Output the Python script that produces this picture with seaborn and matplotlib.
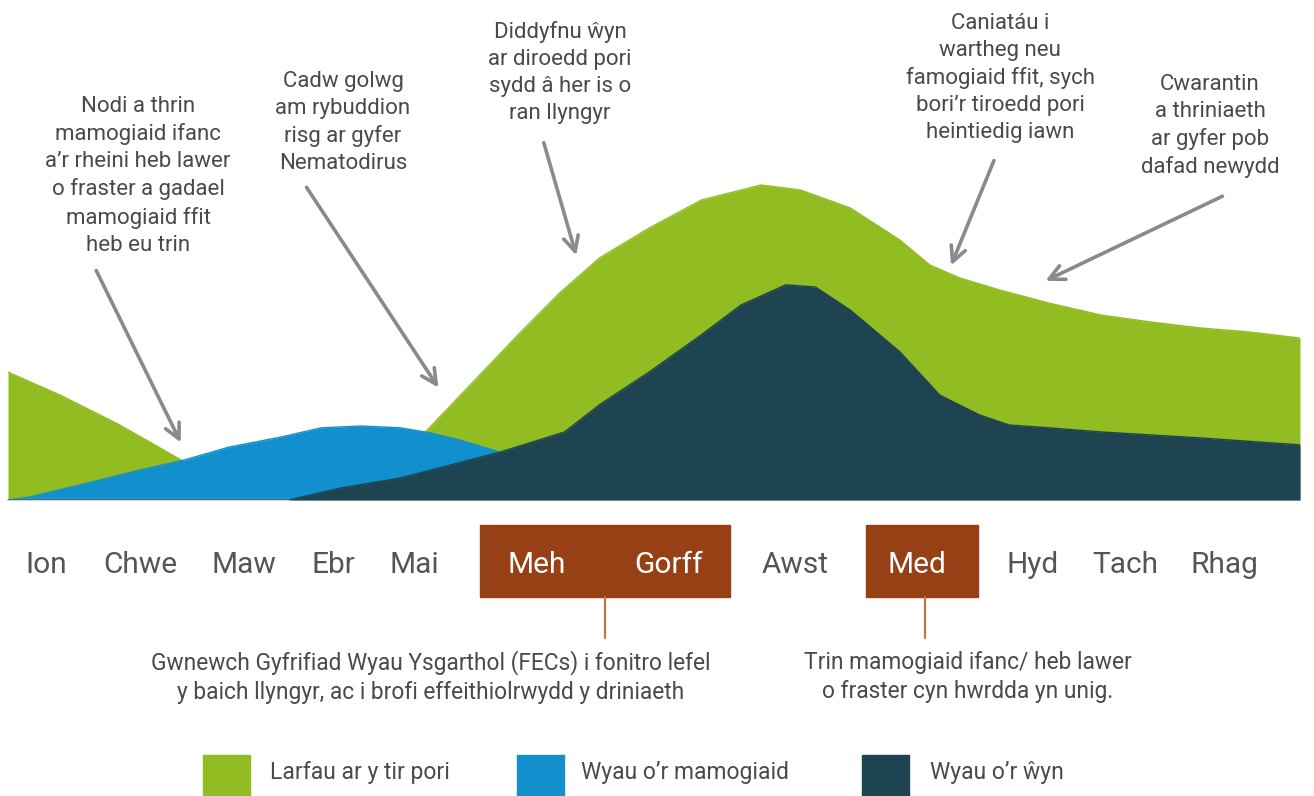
import matplotlib.pyplot as plt
import pandas as pd
import seaborn as sns
from matplotlib.patches import Rectangle

# ---- data (x = week of year, y = relative level) ----
larvae_week = [0.0, 2.1, 4.5, 7.1, 9.7, 13.8, 16.8, 18.6, 20.6, 22.2, 23.8, 25.8,
               27.9, 30.3, 31.9, 33.9, 35.9, 37.1, 38.3, 39.9, 41.9, 44.0, 46.0,
               48.0, 50.0, 52.0]
larvae_level = [40.6, 33.3, 23.8, 12.1, 9.5, 14.3, 21.6, 36.5, 53.0, 65.7, 76.8, 86.3,
                95.2, 100.0, 98.4, 92.7, 82.5, 74.6, 70.5, 66.7, 62.5, 58.7, 56.5,
                54.6, 53.3, 51.4]

ewe_week = [0.0, 0.9, 2.9, 5.3, 7.1, 8.9, 11.0, 12.6, 14.2, 15.8, 17.0, 18.2,
            19.8, 22.2, 24.6, 52.0]
ewe_level = [0.0, 1.0, 4.8, 9.5, 12.7, 16.8, 20.0, 22.9, 23.5, 22.9, 21.3, 19.0,
             15.2, 6.3, 0.0, 0.0]

lamb_week = [0.0, 11.3, 13.4, 15.8, 17.8, 19.8, 22.4, 23.8, 25.8, 27.9, 29.5,
             31.3, 32.5, 33.9, 35.9, 37.5, 39.1, 40.3, 41.9, 44.0, 48.0, 52.0]
lamb_level = [0.0, 0.0, 3.8, 7.0, 11.1, 15.2, 21.6, 30.2, 40.6, 52.4, 61.9,
              68.3, 67.6, 60.3, 47.0, 33.3, 27.0, 23.8, 22.9, 21.6, 19.7, 17.5]

months = ['Ion', 'Chwe', 'Maw', 'Ebr', 'Mai', 'Meh', 'Gorff', 'Awst', 'Med',
          'Hyd', 'Tach', 'Rhag']
series_names = ['Larfau ar y tir pori', 'Wyau o’r mamogiaid', 'Wyau o’r ŵyn']

notes_top = [
    'Nodi a thrin\nmamogiaid ifanc\na’r rheini heb lawer\no fraster a gadael\nmamogiaid ffit\nheb eu trin',
    'Cadw golwg\nam rybuddion\nrisg ar gyfer\nNematodirus',
    'Diddyfnu ŵyn\nar diroedd pori\nsydd â her is o\nran llyngyr',
    'Caniatáu i\nwartheg neu\nfamogiaid ffit, sych\nbori’r tiroedd pori\nheintiedig iawn',
    'Cwarantin\na thriniaeth\nar gyfer pob\ndafad newydd',
]
notes_bottom = [
    'Gwnewch Gyfrifiad Wyau Ysgarthol (FECs) i fonitro lefel\ny baich llyngyr, ac i brofi effeithiolrwydd y driniaeth',
    'Trin mamogiaid ifanc/ heb lawer\no fraster cyn hwrdda yn unig.',
]

colors = ['#91BD22', '#128FCD', '#1E4452']
brown = '#974015'
text_col = '#4a4a4a'

W, H = 1314, 796


def fx(px):
    return px / W


def fy(py):
    return 1 - py / H


sns.set_theme(style='white')
plt.rcParams['font.family'] = ['Roboto', 'DejaVu Sans']

fig = plt.figure(figsize=(W / 100, H / 100), dpi=100)
ax = fig.add_axes([fx(8), fy(500), (1300 - 8) / W, 500 / H])

frames = [
    pd.DataFrame({'week': larvae_week, 'level': larvae_level}),
    pd.DataFrame({'week': ewe_week, 'level': ewe_level}),
    pd.DataFrame({'week': lamb_week, 'level': lamb_level}),
]
for i, (df, c) in enumerate(zip(frames, colors)):
    ax.fill_between(df.week, 0, df.level, color=c, lw=0, zorder=1 + i)
    sns.lineplot(data=df, x='week', y='level', color=c, lw=1, ax=ax, zorder=1 + i)

ax.set_xlim(0, 52)
ax.set_ylim(0, 500 / 3.15)
ax.set_xlabel('')
ax.set_ylabel('')
ax.set_yticks([])
for s in ['top', 'left', 'right']:
    ax.spines[s].set_visible(False)
ax.spines['bottom'].set_color('#c8d4d4')
ax.spines['bottom'].set_linewidth(1.5)

# month labels sit at uneven spots in the design
month_px = [46, 140, 244, 333, 414, 537, 669, 795, 917, 1033, 1125, 1224]
ax.set_xticks([(p - 8) / 1292 * 52 for p in month_px])
ax.set_xticklabels(months, fontsize=21.5, color='#555555')
ax.tick_params(axis='x', length=0, pad=36.5)
for lab in ax.get_xticklabels():
    if lab.get_text() in ('Meh', 'Gorff', 'Med'):
        lab.set_color('white')

# treatment boxes
for x0, x1 in [(480, 730), (866, 978)]:
    fig.add_artist(Rectangle((fx(x0), fy(597)), (x1 - x0) / W, 72 / H,
                             transform=fig.transFigure, color=brown, zorder=-1))
for xl in [605, 925]:
    fig.add_artist(plt.Line2D([fx(xl), fx(xl)], [fy(597), fy(638)],
                              transform=fig.transFigure, color='#c0714a', lw=1.6))

# top notes and arrows
note_pos = [(138, 105), (343, 80), (560, 30), (1000, 22), (1210, 83)]
for txt, (px, py) in zip(notes_top, note_pos):
    fig.text(fx(px), fy(py - 9), txt, ha='center', va='top', fontsize=16,
             color=text_col, linespacing=1.37)

arrows = [((95, 268), (182, 445)), ((305, 185), (440, 390)), ((543, 140), (577, 258)),
          ((995, 158), (950, 268)), ((1225, 195), (1043, 282))]
for (tx, ty), (hx, hy) in arrows:
    ax.annotate('', xy=(hx, H - hy), xytext=(tx, H - ty), xycoords='figure pixels',
                textcoords='figure pixels', annotation_clip=False,
                arrowprops=dict(arrowstyle='->,head_length=0.9,head_width=0.45',
                                color='#8a8a8a', lw=2.6))

# bottom notes
for txt, px in zip(notes_bottom, [431, 968]):
    fig.text(fx(px), fy(677), txt, ha='center', va='center', fontsize=16.4,
             color=text_col, linespacing=1.34)

# legend
for name, c, (bx, lx) in zip(series_names, colors, [(203, 270), (517, 581), (862, 930)]):
    fig.add_artist(Rectangle((fx(bx), fy(800)), 47 / W, 45 / H,
                             transform=fig.transFigure, color=c))
    fig.text(fx(lx), fy(772), name, ha='left', va='center', fontsize=16.5, color=text_col)

fig.savefig('out.png', dpi=100, facecolor='white')
